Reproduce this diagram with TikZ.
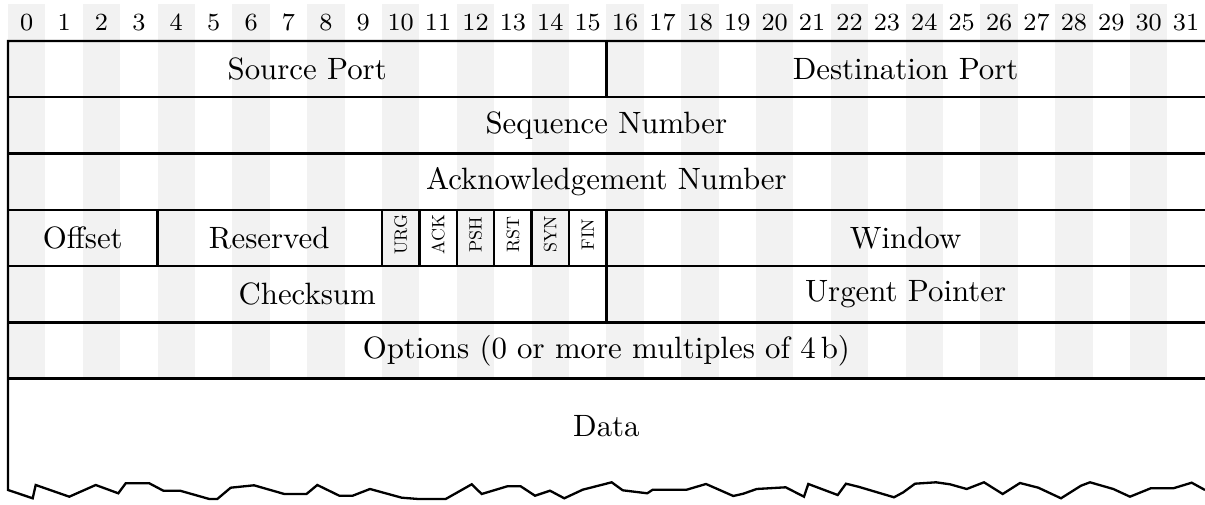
\documentclass[tikz,border=0pt]{standalone}
\usepackage{graphicx}
\definecolor{band}{RGB}{242,242,242}
\begin{document}
\begin{tikzpicture}[x=0.3242pt,y=-0.3242pt,
  rule/.style={line width=0.75pt, line join=miter},
  lbl/.style={inner sep=0pt, font=\normalsize},
  bitnum/.style={inner sep=0pt, font=\footnotesize, anchor=base},
  flag/.style={inner sep=0pt, font=\normalsize, rotate=90}]
\useasboundingbox (0,0) rectangle (1205,505);
% shaded bit columns
\foreach \i in {0,2,...,30}
  \fill[band] ({8+\i*37.4},4) rectangle ({8+(\i+1)*37.4},378.65);
% bit numbers
\foreach \i in {0,...,31}
  \node[bitnum] (b\i) at ({8+(\i+0.5)*37.4},31) {\i};
% outline, rules and torn bottom edge
\draw[rule] (1205,41) -- (8,41) -- (8,490)
  -- (32.7,498.3) -- (35.7,485) -- (69.3,496.7) -- (95.7,485) -- (118.3,493.3)
  -- (125.7,483.3) -- (149.3,483.3) -- (163.3,490.7) -- (180,490.7) -- (209.3,499)
  -- (217.3,499) -- (230.7,487.7) -- (254,485.3) -- (284.3,494) -- (306.5,494)
  -- (317.3,485) -- (339.3,495.7) -- (352.7,495.7) -- (370,489) -- (401.7,497.7)
  -- (418.3,499) -- (445.7,499) -- (471.7,484.3) -- (481.7,494) -- (507.3,486.3)
  -- (520.7,486.3) -- (535,495.7) -- (550,490.7) -- (564.3,498.3) -- (582.7,489.7)
  -- (611.7,482.3) -- (622.7,490.3) -- (647.3,493.3) -- (652.7,489.7) -- (686.7,489.7)
  -- (706,484) -- (733.3,496) -- (743.3,493.7) -- (756.7,489) -- (785.7,487.3)
  -- (804,496.7) -- (808.3,484) -- (837.7,495) -- (846,483.7) -- (858.3,486.7)
  -- (894,497.3) -- (903.3,492.3) -- (915,483.7) -- (936,482.3) -- (950,484.3)
  -- (966.7,489) -- (984,482.3) -- (1002.7,494) -- (1020,483) -- (1038.3,487.7)
  -- (1061,498.3) -- (1081,485.7) -- (1090,482.3) -- (1113.3,489) -- (1130,496.7)
  -- (1150.7,488.3) -- (1173.3,488.3) -- (1191.7,482.7) -- (1205,490);
\foreach \y in {97.27,153.55,209.82,266.1,322.37,378.65}
  \draw[rule] (8,\y) -- (1205,\y);
% vertical separators
\draw[rule] (606.4,41) -- (606.4,97.27);
\foreach \b in {4,10,11,12,13,14,15,16}
  \draw[rule] ({8+\b*37.4},209.82) -- ({8+\b*37.4},266.1);
\draw[rule] (606.4,266.1) -- (606.4,322.37);
% labels
\node[lbl] (src) at (307.2,69.1) {Source Port};
\node[lbl] (dst) at (905.6,69.1) {Destination Port};
\node[lbl] (seq) at (606.4,125.4) {Sequence Number};
\node[lbl] (ack) at (606.4,181.7) {Acknowledgement Number};
\node[lbl] (off) at (82.8,238) {Offset};
\node[lbl] (res) at (269.2,238) {Reserved};
\node[flag] (urg) at ({8+10.5*37.4},234.5) {\scalebox{0.58}{URG}};
\node[flag] (ackf) at ({8+11.5*37.4},234.5) {\scalebox{0.58}{ACK}};
\node[flag] (psh) at ({8+12.5*37.4},234.5) {\scalebox{0.58}{PSH}};
\node[flag] (rst) at ({8+13.5*37.4},234.5) {\scalebox{0.58}{RST}};
\node[flag] (syn) at ({8+14.5*37.4},234.5) {\scalebox{0.58}{SYN}};
\node[flag] (fin) at ({8+15.5*37.4},234.5) {\scalebox{0.58}{FIN}};
\node[lbl] (win) at (905.6,238) {Window};
\node[lbl] (chk) at (307.2,294.2) {Checksum};
\node[lbl] (urgp) at (905.6,294.2) {Urgent Pointer};
\node[lbl] (opt) at (606.4,350.5) {Options (0 or more multiples of 4\,b)};
\node[lbl] (data) at (606.4,426) {Data};
\end{tikzpicture}
\end{document}
